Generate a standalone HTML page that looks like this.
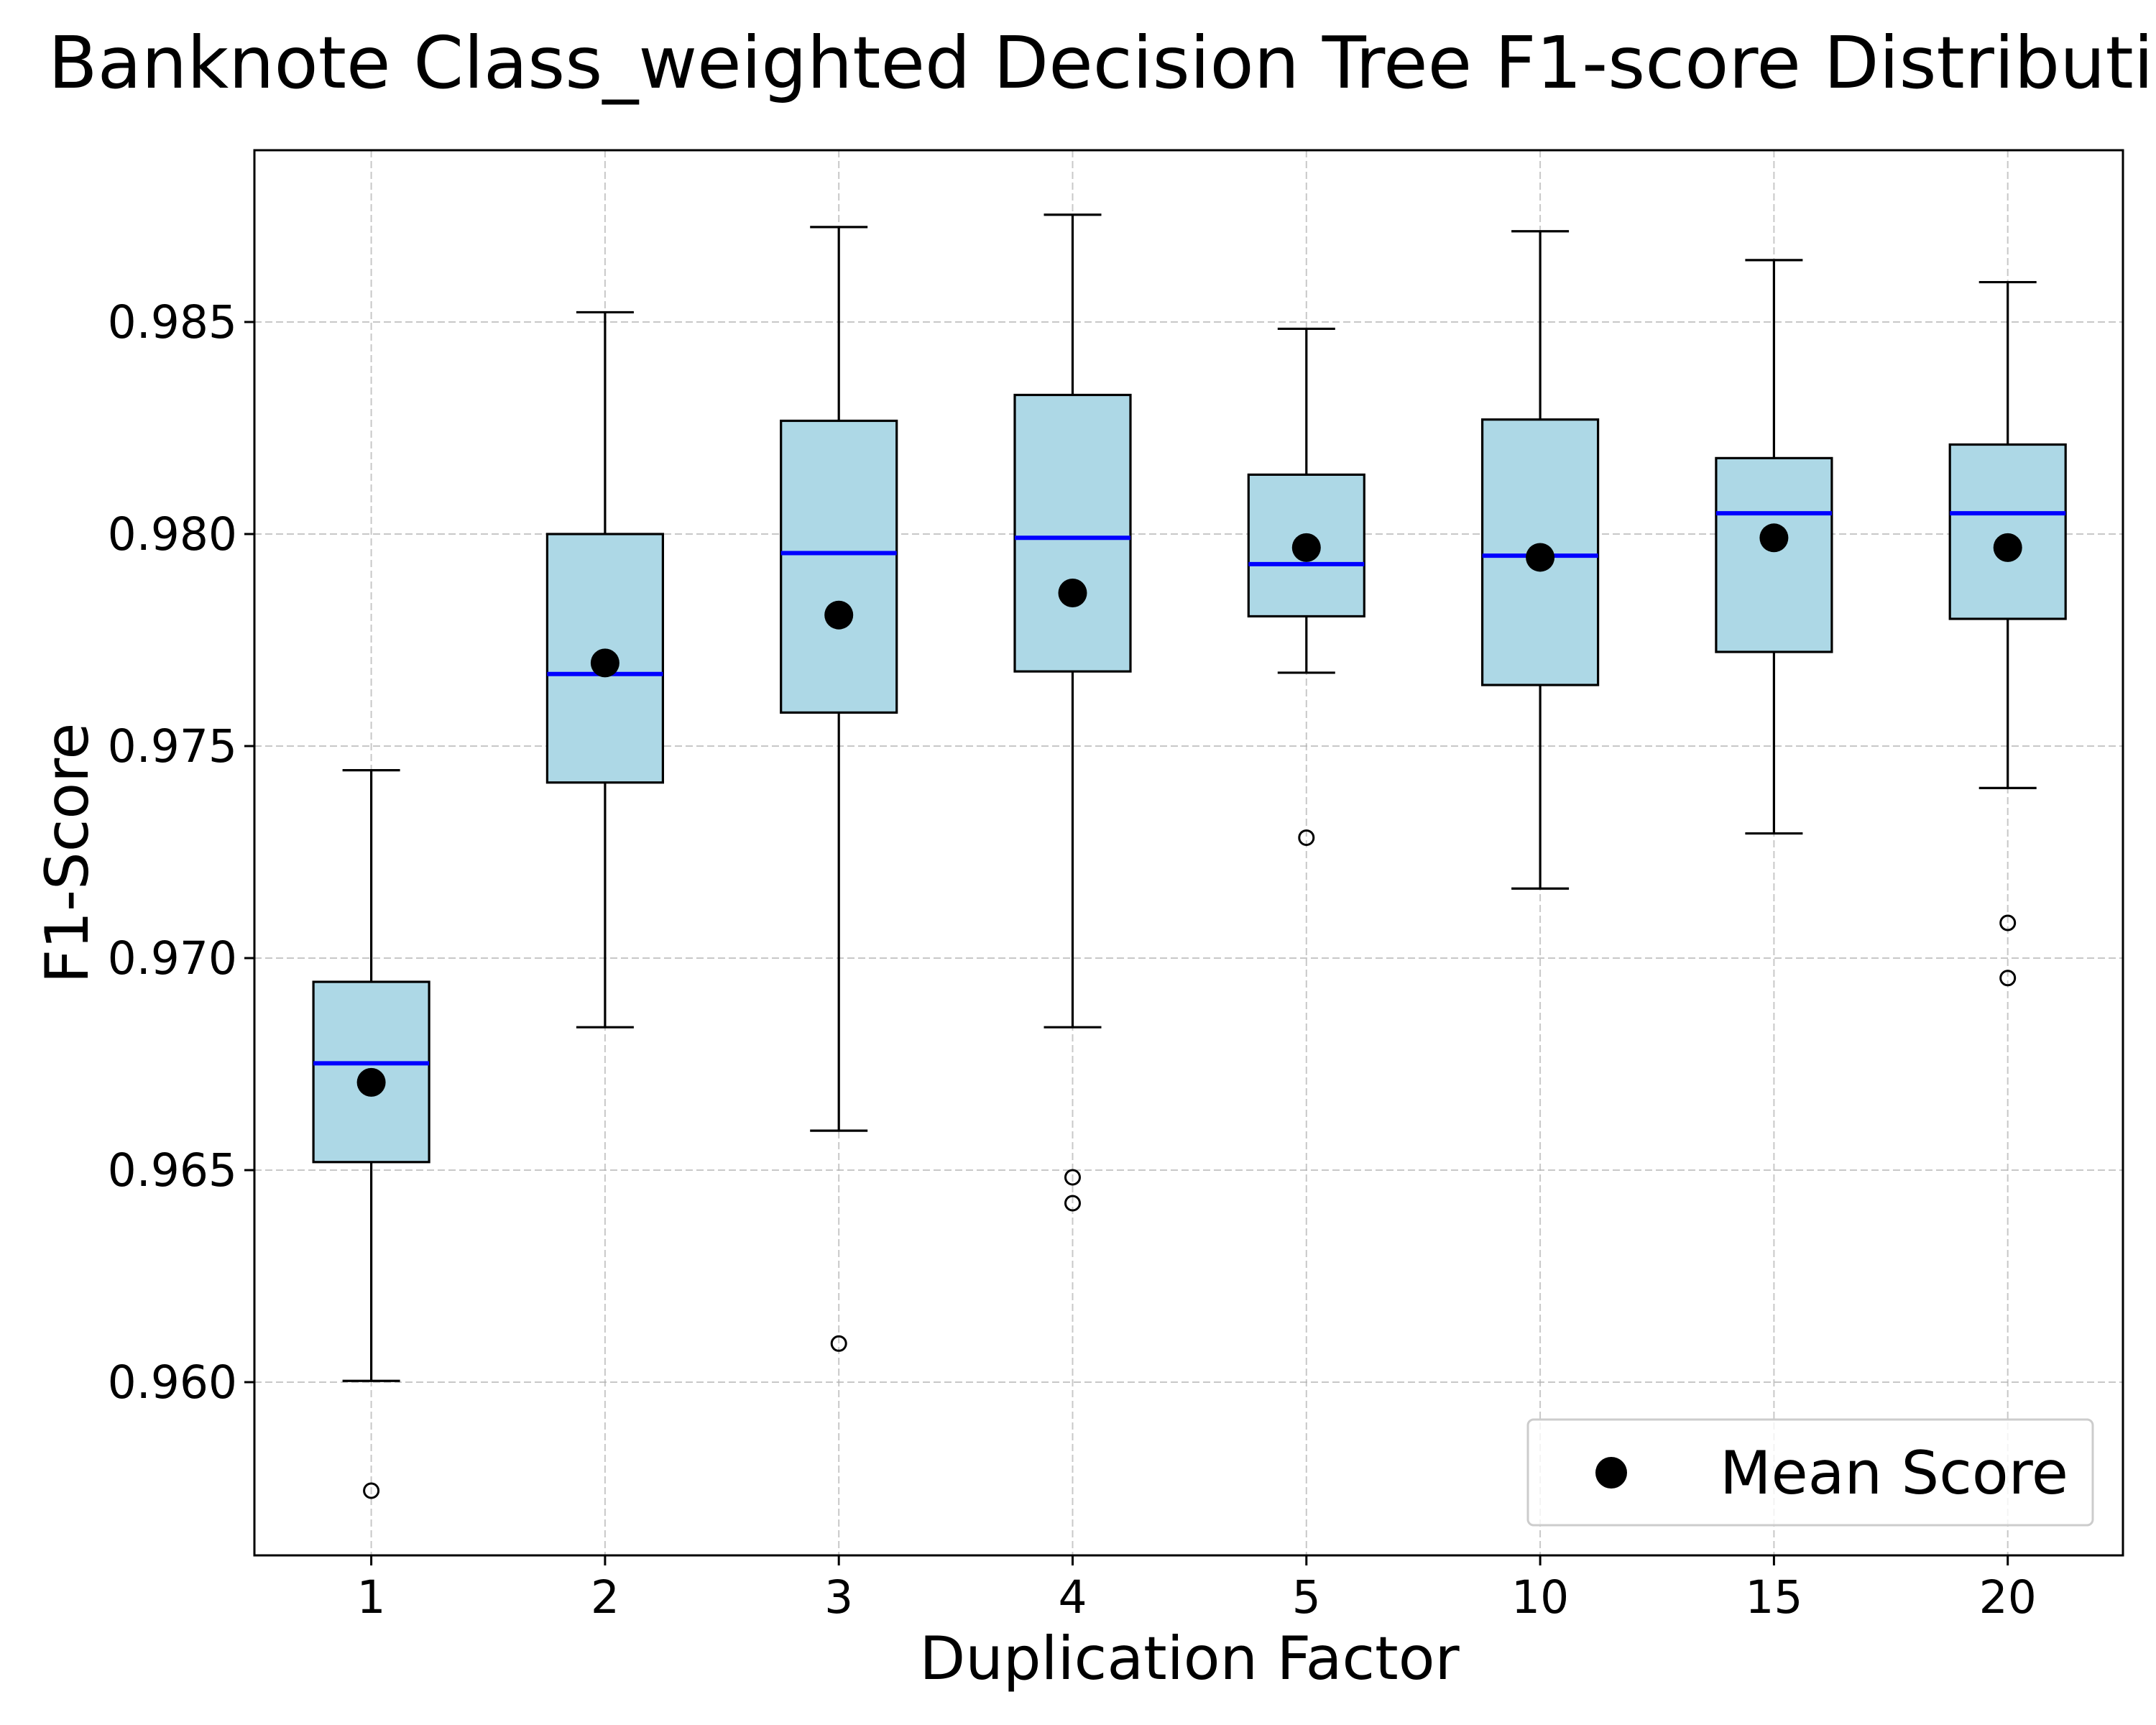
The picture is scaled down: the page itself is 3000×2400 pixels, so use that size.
<!DOCTYPE html>
<html><head><meta charset="utf-8"><style>
html,body{margin:0;padding:0;background:#fff;}
svg{display:block;font-family:"DejaVu Sans","Liberation Sans",sans-serif;}
</style></head><body>
<svg id="chart" width="3000" height="2400" viewBox="0 0 3000 2400" xmlns="http://www.w3.org/2000/svg">
<rect width="3000" height="2400" fill="#fff"/>
<text x="67" y="122" font-size="100">Banknote Class_weighted Decision Tree F1-score Distribution by Duplication Factor</text>
<g id="grid"></g><g id="boxes"></g><g id="axes"></g>
<text x="1655" y="2336" font-size="83" text-anchor="middle">Duplication Factor</text>
<text transform="translate(122,1187) rotate(-90)" font-size="83" text-anchor="middle">F1-Score</text>
<g>
<rect x="2126" y="1975" width="786" height="147" rx="8" fill="#fff" fill-opacity="0.8" stroke="#ccc" stroke-width="3"/>
<circle cx="2242" cy="2049" r="22" fill="#000"/>
<text x="2393" y="2078" font-size="83">Mean Score</text>
</g>
</svg>
<script>
const categories = ["1","2","3","4","5","10","15","20"];
const whiskerHigh = [0.97443,0.98523,0.98724,0.98753,0.98484,0.98714,0.98646,0.98594];
const q3Values = [0.96944,0.98000,0.98267,0.98328,0.98140,0.98270,0.98179,0.98211];
const medians = [0.96752,0.97670,0.97955,0.97991,0.97929,0.97949,0.98049,0.98049];
const q1Values = [0.96519,0.97414,0.97579,0.97676,0.97806,0.97644,0.97722,0.97800];
const whiskerLow = [0.96003,0.96837,0.96593,0.96837,0.97673,0.97164,0.97294,0.97401];
const means = [0.96707,0.97696,0.97809,0.97861,0.97968,0.97945,0.97991,0.97968];
const outliers = [[0.95744],[],[0.96091],[0.96483,0.96422],[0.97284],[],[],[0.97083,0.96953]];
const yTicks = [0.960,0.965,0.970,0.975,0.980,0.985];
const yTickLabels = ["0.960","0.965","0.970","0.975","0.980","0.985"];

const L=354,R=2954,T=209,B=2164;
const y=v=>448+(0.985-v)/0.005*295;
const x=i=>516.6+325.3*i;
const NS="http://www.w3.org/2000/svg";
function mk(tag,attrs,parent){const e=document.createElementNS(NS,tag);for(const k in attrs)e.setAttribute(k,attrs[k]);parent.appendChild(e);return e;}
const grid=document.getElementById('grid'),boxes=document.getElementById('boxes'),axes=document.getElementById('axes');
yTicks.forEach((t,i)=>{
  const g=mk('line',{x1:L,x2:R,y1:y(t),y2:y(t),stroke:'#b0b0b0','stroke-width':2,'stroke-dasharray':'10 5','stroke-opacity':0.7},grid);
  
  
  mk('line',{x1:L-14,x2:L,y1:y(t),y2:y(t),stroke:'#000','stroke-width':3},axes);
  const tx=mk('text',{x:L-24,y:y(t)+22,'font-size':63,'text-anchor':'end'},axes);
  tx.textContent=yTickLabels[i];
  
  
});
categories.forEach((c,i)=>{
  const cx=x(i),hw=80.5;
  const g=mk('line',{x1:cx,x2:cx,y1:T,y2:B,stroke:'#b0b0b0','stroke-width':2,'stroke-dasharray':'10 5','stroke-opacity':0.7},grid);
  
  
  mk('line',{x1:cx,x2:cx,y1:B,y2:B+14,stroke:'#000','stroke-width':3},axes);
  const tx=mk('text',{x:cx,y:B+80,'font-size':63,'text-anchor':'middle'},axes);
  tx.textContent=c;
  
  
  const grp=mk('g',{},boxes);
  
  
  const st={stroke:'#000','stroke-width':3.2};
  mk('line',Object.assign({x1:cx,x2:cx,y1:y(whiskerHigh[i]),y2:y(q3Values[i])},st),grp);
  mk('line',Object.assign({x1:cx,x2:cx,y1:y(q1Values[i]),y2:y(whiskerLow[i])},st),grp);
  mk('line',Object.assign({x1:cx-40,x2:cx+40,y1:y(whiskerHigh[i]),y2:y(whiskerHigh[i])},st),grp);
  mk('line',Object.assign({x1:cx-40,x2:cx+40,y1:y(whiskerLow[i]),y2:y(whiskerLow[i])},st),grp);
  mk('rect',{x:cx-hw,y:y(q3Values[i]),width:2*hw,height:y(q1Values[i])-y(q3Values[i]),fill:'#add8e6',stroke:'#000','stroke-width':3.2},grp);
  mk('line',{x1:cx-hw,x2:cx+hw,y1:y(medians[i]),y2:y(medians[i]),stroke:'#0000ff','stroke-width':6},grp);
  outliers[i].forEach(o=>{
    const oc=mk('circle',{cx:cx,cy:y(o),r:10,fill:'none',stroke:'#000','stroke-width':3},grp);
    
    
  });
  const m=mk('circle',{cx:cx,cy:y(means[i]),r:20,fill:'#000'},grp);
  
  
});
const frame=mk('rect',{x:L,y:T,width:R-L,height:B-T,fill:'none',stroke:'#000','stroke-width':3},axes);


</script>
</body></html>
